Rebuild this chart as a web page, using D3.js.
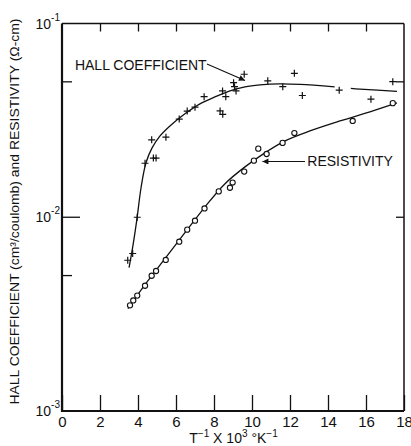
<!DOCTYPE html>
<html>
<head>
<meta charset="utf-8">
<script src="https://cdn.jsdelivr.net/npm/d3@7"></script>
<style>
	body { margin: 0; background: #fff; }
	svg { display: block; font-family: "Liberation Sans", Arial, sans-serif; }
	.frame { fill: none; stroke: #111; }
	.axis path { display: none; }
	.axis line { stroke: #111; stroke-width: 1.3; }
	.axis text { fill: #111; font-size: 15px; }
</style>
</head>
<body>
<div class="chart"></div>
<script>
// measured points, read off the reference
// x is 1/T x 10^3 (1/K), y on log scale
var hallX = [3.46, 3.72, 3.96, 4.37, 4.81, 4.95, 4.72, 5.47, 6.17, 6.59, 7.0, 7.48,
	8.32, 8.46, 8.45, 8.62, 9.03, 9.08, 9.16, 9.59, 10.83, 11.62, 12.23, 12.65,
	14.59, 16.26, 17.41];
var hallR = [0.0060, 0.0065, 0.0100, 0.0190, 0.0202, 0.0202, 0.0251, 0.0259, 0.0321, 0.0353, 0.0370, 0.0419,
	0.0354, 0.0340, 0.0449, 0.0419, 0.0495, 0.0472, 0.0449, 0.0547, 0.0506, 0.0472, 0.0553, 0.0425,
	0.0453, 0.0407, 0.0501];

var resX = [3.58, 3.75, 3.96, 4.37, 4.72, 4.95, 5.46, 6.17, 6.59, 7.0, 7.5,
	8.25, 8.84, 8.98, 9.59, 10.1, 10.33, 10.77, 11.61, 12.23, 15.3, 17.41];
var resR = [0.00351, 0.00372, 0.00394, 0.00443, 0.00499, 0.00528, 0.00602, 0.00748, 0.00863, 0.00960, 0.0111,
	0.0136, 0.0142, 0.0151, 0.0172, 0.0196, 0.0226, 0.0212, 0.0242, 0.0272, 0.0314, 0.0388];

// hand drawn fit curves (null = gap in the pen line)
var hallCurveX = [3.53, 3.74, 3.95, 4.16, 4.42, 4.74, 5.16, 5.68, 6.47, 7.26, 8.05, 8.84,
	9.63, 10.42, 11.47, 12.53, 14.35, null, 15.2, 15.68, 17.63];
var hallCurveR = [0.0055, 0.0072, 0.0099, 0.0142, 0.0191, 0.0228, 0.0263, 0.0296, 0.0342, 0.0385, 0.0418, 0.0449,
	0.0471, 0.0482, 0.0488, 0.0485, 0.0471, null, 0.0463, 0.0459, 0.0446];

var resCurveX = [3.47, 4.37, 5.42, 6.47, 7.53, 8.58, 9.63, 10.68, 11.74, 13.05, 14.63, 16.21, 17.63];
var resCurveR = [0.00338, 0.00449, 0.00611, 0.00832, 0.01132, 0.0149, 0.0182, 0.0215, 0.0248, 0.0279, 0.0314, 0.0350, 0.0389];

// axis ticks
var xTicks = [0, 2, 4, 6, 8, 10, 12, 14, 16, 18];
var yDecades = [1e-3, 1e-2, 1e-1];
var yDecadeExp = ["-3", "-2", "-1"];
var yMinorLeft = [5e-3, 5e-2];
var yRight = [1e-2, 5e-2];

// annotation labels: [label, text x, text y, arrow from x, from y, to x, to y]
var labels = [
	["HALL COEFFICIENT", 0.68, 0.0573, 7.63, 0.0618, 9.63, 0.0508],
	["RESISTIVITY", 12.91, 0.01833, 12.79, 0.0194, 10.55, 0.0194]
];

var width = 411, height = 446;
var margin = {top: 23.5, right: 7, bottom: 35, left: 62};

var svg = d3.select(".chart").append("svg")
	.attr("width", width)
	.attr("height", height);

var xScale = d3.scaleLinear()
	.domain([0, 18])
	.range([margin.left, width - margin.right]);
var yScale = d3.scaleLog()
	.domain([1e-3, 1e-1])
	.range([height - margin.bottom, margin.top]);

var x0 = xScale.range()[0], x1 = xScale.range()[1];
var y0 = yScale.range()[0], y1 = yScale.range()[1];

svg.append("defs").append("marker")
	.attr("id", "arrow")
	.attr("viewBox", "0 0 10 10")
	.attr("refX", 10)
	.attr("refY", 5)
	.attr("markerWidth", 7)
	.attr("markerHeight", 6)
	.attr("markerUnits", "userSpaceOnUse")
	.attr("orient", "auto")
	.append("path")
	.attr("d", "M0,0L10,5L0,10z")
	.attr("fill", "#111");

// bottom axis, ticks point inward
svg.append("g")
	.attr("class", "axis")
	.attr("transform", "translate(0," + y0 + ")")
	.call(d3.axisBottom(xScale)
		.tickValues(xTicks)
		.tickSizeInner(-16)
		.tickSizeOuter(0)
		.tickPadding(5)
		.tickFormat(d3.format("d")));

// top axis, no labels
svg.append("g")
	.attr("class", "axis")
	.attr("transform", "translate(0," + y1 + ")")
	.call(d3.axisTop(xScale)
		.tickValues(xTicks.slice(1, -1))
		.tickSizeInner(-8)
		.tickSizeOuter(0)
		.tickFormat(""));

// left axis ticks
var left = svg.append("g").attr("class", "axis");
left.selectAll(".major")
	.data([1e-2])
	.join("line")
	.attr("x1", x0).attr("x2", x0 + 18)
	.attr("y1", d => yScale(d)).attr("y2", d => yScale(d));
left.selectAll(".minor")
	.data(yMinorLeft)
	.join("line")
	.attr("class", "minor")
	.attr("x1", x0).attr("x2", x0 + 10)
	.attr("y1", d => yScale(d)).attr("y2", d => yScale(d));

// right axis ticks
svg.append("g").attr("class", "axis")
	.selectAll("line")
	.data(yRight)
	.join("line")
	.attr("x1", x1).attr("x2", x1 - 8)
	.attr("y1", d => yScale(d)).attr("y2", d => yScale(d));

// decade labels 10^-n
var yLab = svg.append("g")
	.selectAll("text")
	.data(yDecades)
	.join("text")
	.attr("x", x0 - 2)
	.attr("y", d => yScale(d) + 5)
	.attr("text-anchor", "end")
	.attr("fill", "#111")
	.style("font-size", "14px");
yLab.append("tspan").text("10");
yLab.append("tspan")
	.attr("dy", -8)
	.style("font-size", "10px")
	.text((d, i) => yDecadeExp[i]);

// frame
svg.append("path")
	.attr("class", "frame")
	.attr("d", "M" + x1 + "," + y1 + "V" + y0)
	.attr("stroke-width", 1.5);
svg.append("path")
	.attr("class", "frame")
	.attr("d", "M" + x0 + "," + y1 + "H" + x1)
	.attr("stroke-width", 1.5);
svg.append("path")
	.attr("class", "frame")
	.attr("d", "M" + x0 + "," + y1 + "V" + y0 + "H" + x1)
	.attr("stroke-width", 2.2);

// fitted curves
var line = d3.line()
	.defined(d => d[0] != null)
	.x(d => xScale(d[0]))
	.y(d => yScale(d[1]))
	.curve(d3.curveCatmullRom);

svg.append("path")
	.datum(d3.zip(hallCurveX, hallCurveR))
	.attr("d", line)
	.attr("fill", "none")
	.attr("stroke", "#111")
	.attr("stroke-width", 1.3);
svg.append("path")
	.datum(d3.zip(resCurveX, resCurveR))
	.attr("d", line)
	.attr("fill", "none")
	.attr("stroke", "#111")
	.attr("stroke-width", 1.3);

// hall coefficient as crosses
var s = 3.5;
svg.append("g")
	.selectAll("path")
	.data(d3.zip(hallX, hallR))
	.join("path")
	.attr("d", d => {
		var cx = xScale(d[0]), cy = yScale(d[1]);
		return "M" + (cx - s) + "," + cy + "H" + (cx + s) +
			"M" + cx + "," + (cy - s) + "V" + (cy + s);
	})
	.attr("stroke", "#111")
	.attr("stroke-width", 1.2);

// resistivity as open circles
svg.append("g")
	.selectAll("circle")
	.data(d3.zip(resX, resR))
	.join("circle")
	.attr("cx", d => xScale(d[0]))
	.attr("cy", d => yScale(d[1]))
	.attr("r", 2.6)
	.attr("fill", "#fff")
	.attr("stroke", "#111")
	.attr("stroke-width", 1.1);

// annotations with arrows
labels.forEach(function(l){
	svg.append("text")
		.attr("x", xScale(l[1]))
		.attr("y", yScale(l[2]))
		.attr("fill", "#111")
		.style("font-size", "14px")
		.text(l[0]);
	svg.append("line")
		.attr("x1", xScale(l[3])).attr("y1", yScale(l[4]))
		.attr("x2", xScale(l[5])).attr("y2", yScale(l[6]))
		.attr("stroke", "#111")
		.attr("stroke-width", 1.1)
		.attr("marker-end", "url(#arrow)");
});

// axis titles
var xt = svg.append("text")
	.attr("x", 233.5)
	.attr("y", 443)
	.attr("text-anchor", "middle")
	.attr("fill", "#111")
	.style("font-size", "14px");
xt.append("tspan").text("T");
xt.append("tspan").attr("dy", -6).style("font-size", "10px").text("\u22121");
xt.append("tspan").attr("dy", 6).text(" X 10");
xt.append("tspan").attr("dy", -6).style("font-size", "10px").text("3");
xt.append("tspan").attr("dy", 6).text(" \u00B0K");
xt.append("tspan").attr("dy", -6).style("font-size", "10px").text("\u22121");

svg.append("text")
	.attr("transform", "translate(19," + ((y0 + 12) / 2) + ") rotate(-90)")
	.attr("text-anchor", "middle")
	.attr("fill", "#111")
	.attr("textLength", 386)
	.attr("lengthAdjust", "spacingAndGlyphs")
	.style("font-size", "13.5px")
	.text("HALL COEFFICIENT (cm\u00B3/coulomb) and RESISTIVITY (\u03A9-cm)");
</script>
</body>
</html>
